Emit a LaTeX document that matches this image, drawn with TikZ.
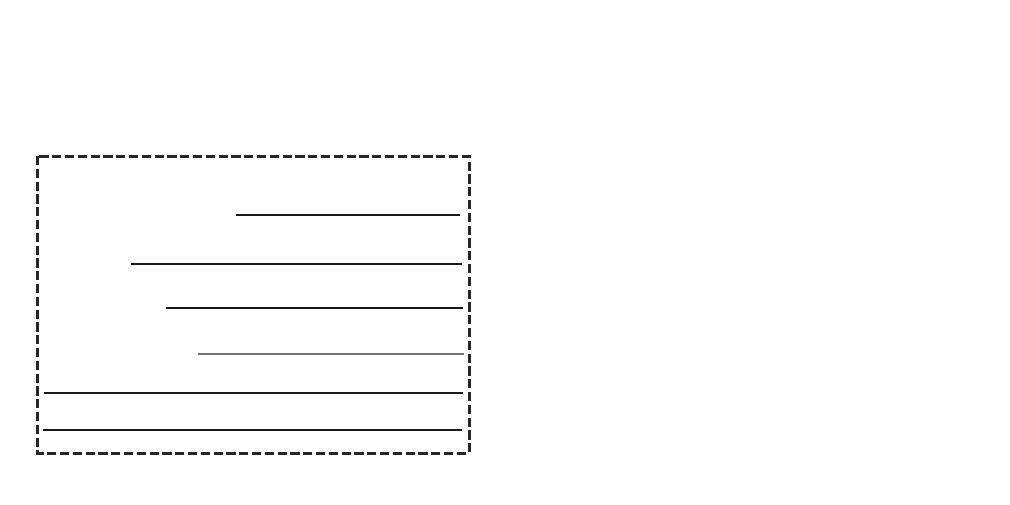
\documentclass[tikz,border=0pt]{standalone}
\usepackage{tikz}

\begin{document}
\begin{tikzpicture}[x=0.25mm,y=-0.25mm]
\tikzset{frame/.style={draw=black!85,line width=0.75mm,dash pattern=on 2.3mm off 0.9mm},
         rule/.style={draw=black!90,line width=0.3mm}}
\useasboundingbox (0,0) rectangle (1010,504);
\draw[frame] (37,156) rectangle (469,453);
% lines in the frame
\coordinate (a1) at (236,215); \coordinate (b1) at (460,215);
\coordinate (a2) at (131,264); \coordinate (b2) at (462,264);
\coordinate (a3) at (166,308); \coordinate (b3) at (463,308);
\coordinate (a4) at (198,354); \coordinate (b4) at (464,354);
\coordinate (a5) at (44,393);  \coordinate (b5) at (463,393);
\coordinate (a6) at (43,430);  \coordinate (b6) at (462,430);
\draw[rule] (a1) -- (b1);
\draw[rule] (a2) -- (b2);
\draw[rule] (a3) -- (b3);
\draw[rule,draw=black!55] (a4) -- (b4);
\draw[rule] (a5) -- (b5);
\draw[rule] (a6) -- (b6);
\end{tikzpicture}
\end{document}
